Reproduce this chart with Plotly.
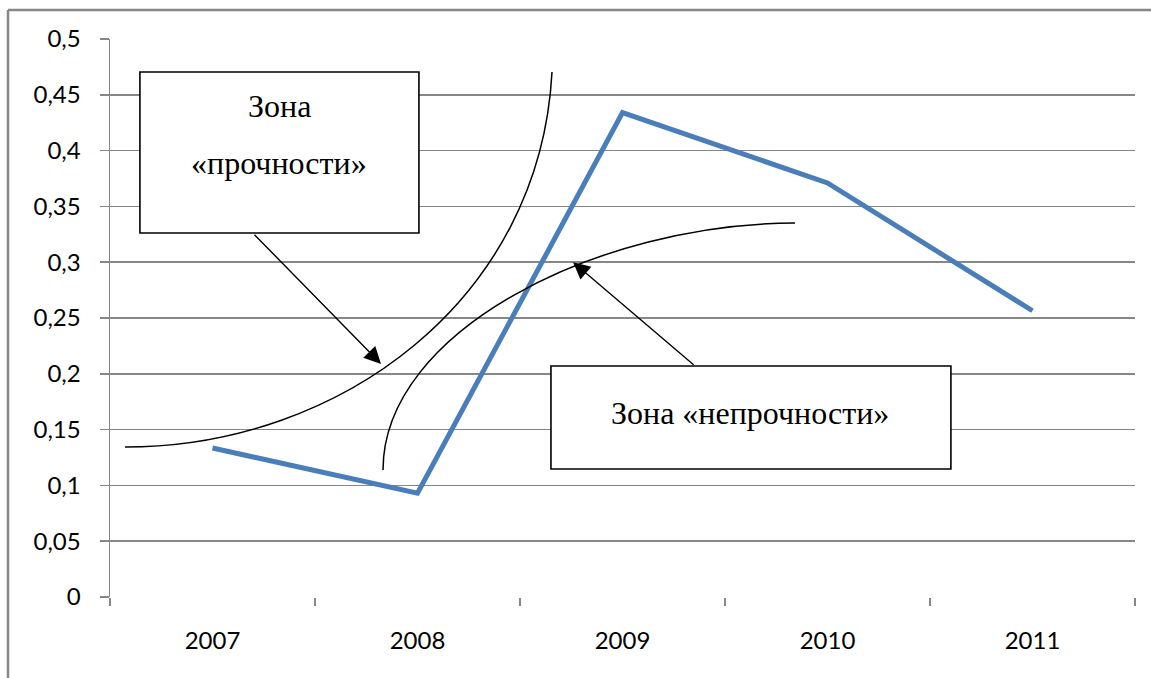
import plotly.graph_objects as go

# ---- data ----
years = ["2007", "2008", "2009", "2010", "2011"]
values = [0.1335, 0.093, 0.434, 0.371, 0.2565]

y_tickvals = [0, 0.05, 0.1, 0.15, 0.2, 0.25, 0.3, 0.35, 0.4, 0.45, 0.5]
y_ticktext = ["0", "0,05", "0,1", "0,15", "0,2", "0,25", "0,3", "0,35", "0,4", "0,45", "0,5"]

# hand-drawn zone curves as cubic Bezier control points (category index, value)
strong_x = [-0.4268, 0.622, 1.5976, 1.6561]
strong_y = [0.1344, 0.1344, 0.2661, 0.4704]
weak_x = [0.8317, 0.8317, 1.890, 2.8415]
weak_y = [0.1138, 0.2392, 0.3351, 0.3351]

label_strong_1 = "Зона"
label_strong_2 = "«прочности»"
label_weak = "Зона «непрочности»"

xpos = list(range(len(years)))
bounds = [i - 0.5 for i in range(len(years) + 1)]

W, H = 1151, 678
ml, mr, mt, mb = 110, 16, 39, 81
pw = W - ml - mr
ph = H - mt - mb

GRID = "#878787"
fig = go.Figure()

fig.add_trace(go.Scatter(x=xpos, y=values, mode="lines",
                         line=dict(color="#4A7EBB", width=5), hoverinfo="skip"))
# invisible trace for the label axis
fig.add_trace(go.Scatter(x=xpos, y=values, xaxis="x2", mode="lines",
                         line=dict(width=0), opacity=0, hoverinfo="skip"))


def bezier_path(xs, ys):
    return "M {},{} C {},{} {},{} {},{}".format(
        xs[0], ys[0], xs[1], ys[1], xs[2], ys[2], xs[3], ys[3])


for cx, cy in ((strong_x, strong_y), (weak_x, weak_y)):
    fig.add_shape(type="path", xref="x", yref="y", path=bezier_path(cx, cy),
                  line=dict(color="black", width=1.5), layer="above")

tickfont = dict(family="Lato", size=24, color="black")
serif = dict(family="Liberation Serif", size=32, color="black")

fig.update_layout(
    width=W, height=H,
    margin=dict(l=ml, r=mr, t=mt, b=mb, pad=0),
    paper_bgcolor="white", plot_bgcolor="white",
    showlegend=False,
    dragmode=False,
    xaxis=dict(range=[-0.5, 4.5], tickvals=bounds, showticklabels=False,
               ticks="outside", ticklen=8, tickcolor=GRID, tickwidth=1.5,
               showgrid=False, zeroline=False, showline=False, fixedrange=True),
    xaxis2=dict(range=[-0.5, 4.5], overlaying="x", side="bottom",
                tickvals=xpos, ticktext=years, ticks="", showgrid=False,
                zeroline=False, showline=False, tickfont=tickfont,
                ticklabelstandoff=27, fixedrange=True),
    yaxis=dict(range=[0, 0.5], tickvals=y_tickvals, ticktext=y_ticktext,
               showgrid=True, gridcolor=GRID, gridwidth=1.5,
               zeroline=False, showline=True, linecolor=GRID, linewidth=1.5,
               ticks="outside", ticklen=9, tickcolor=GRID, tickwidth=1.5,
               tickfont=tickfont, ticklabelstandoff=14, fixedrange=True),
)

# outer chart frame (top and left edges visible in the crop)
fx0 = (8 - ml) / pw
fy1 = 1 + (mt - 10) / ph
fig.add_shape(type="line", xref="paper", yref="paper",
              x0=fx0, x1=1 + 200 / pw, y0=fy1, y1=fy1,
              line=dict(color="#878787", width=2.5))
fig.add_shape(type="line", xref="paper", yref="paper",
              x0=fx0, x1=fx0, y0=-(mb + 200) / ph, y1=fy1,
              line=dict(color="#878787", width=2.5))

# text boxes
fig.add_shape(type="rect", xref="x", yref="y", x0=-0.354, x1=1.007, y0=0.3262, y1=0.4704,
              line=dict(color="black", width=1.6), fillcolor="white", layer="above")
fig.add_shape(type="rect", xref="x", yref="y", x0=1.651, x1=3.602, y0=0.1147, y1=0.207,
              line=dict(color="black", width=1.6), fillcolor="white", layer="above")

fig.add_annotation(x=0.3244, y=0.44, xref="x", yref="y", text=label_strong_1,
                   showarrow=False, font=serif)
fig.add_annotation(x=0.3244, y=0.3889, xref="x", yref="y", text=label_strong_2,
                   showarrow=False, font=serif)
fig.add_annotation(x=2.622, y=0.1649, xref="x", yref="y", text=label_weak,
                   showarrow=False, font=serif)

# arrows
fig.add_annotation(x=0.822, y=0.2088, ax=0.1976, ay=0.326, xref="x", yref="y",
                   axref="x", ayref="y", text="", showarrow=True, arrowhead=2,
                   arrowsize=2.4, arrowwidth=1.4, arrowcolor="black")
fig.add_annotation(x=1.759, y=0.300, ax=2.354, ay=0.207, xref="x", yref="y",
                   axref="x", ayref="y", text="", showarrow=True, arrowhead=2,
                   arrowsize=2.4, arrowwidth=1.4, arrowcolor="black")

fig.write_html("out.html", config={"displayModeBar": False, "staticPlot": True})
